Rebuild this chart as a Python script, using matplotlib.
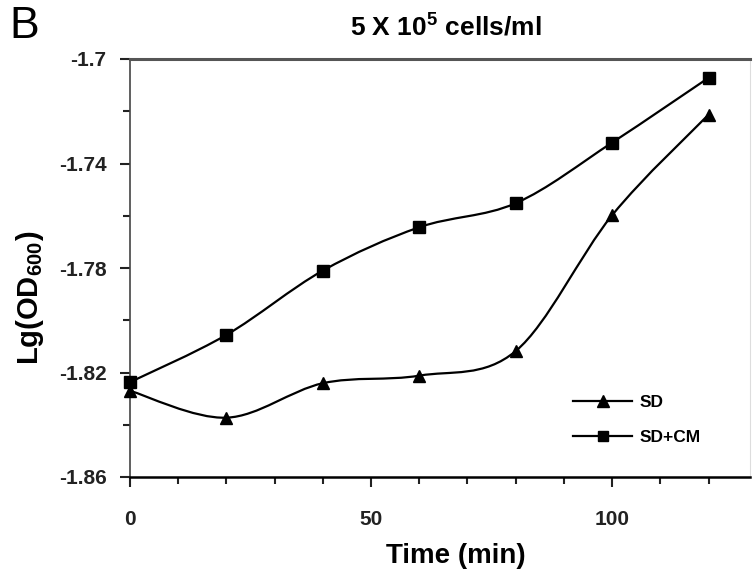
import matplotlib
matplotlib.use("Agg")
import matplotlib.pyplot as plt
from matplotlib.path import Path
from matplotlib.patches import PathPatch
from matplotlib.lines import Line2D
from matplotlib.ticker import MultipleLocator

plt.rcParams['font.family'] = ['Liberation Sans', 'DejaVu Sans']
plt.rcParams['mathtext.fontset'] = 'custom'
plt.rcParams['mathtext.rm'] = 'Liberation Sans:bold'
plt.rcParams['mathtext.bf'] = 'Liberation Sans:bold'
plt.rcParams['mathtext.it'] = 'Liberation Sans:bold'

# Datos
tiempo = [0, 20, 40, 60, 80, 100, 120]
sd = [-1.827, -1.8373, -1.8241, -1.8212, -1.8118, -1.7598, -1.7213]
sd_cm = [-1.8237, -1.8056, -1.781, -1.7644, -1.7552, -1.732, -1.7072]
nombres = ["SD", "SD+CM"]
y_ticks = [-1.86, -1.82, -1.78, -1.74, -1.70]
y_labels = ["-1.86", "-1.82", "-1.78", "-1.74", "-1.7"]
x_ticks = [0, 50, 100]


def curva_suave(xs, ys):
    # Curva tipo Excel (Catmull-Rom pasado a Bezier)
    pts = list(zip(xs, ys))
    verts = [pts[0]]
    codes = [Path.MOVETO]
    n = len(pts)
    for i in range(n - 1):
        p0 = pts[i - 1] if i > 0 else pts[i]
        p1 = pts[i]
        p2 = pts[i + 1]
        p3 = pts[i + 2] if i + 2 < n else pts[i + 1]
        c1 = (p1[0] + (p2[0] - p0[0]) / 6, p1[1] + (p2[1] - p0[1]) / 6)
        c2 = (p2[0] - (p3[0] - p1[0]) / 6, p2[1] - (p3[1] - p1[1]) / 6)
        verts += [c1, c2, p2]
        codes += [Path.CURVE4] * 3
    return Path(verts, codes)


W, H = 753, 576
fig = plt.figure(figsize=(W / 100, H / 100), dpi=100)
ax = fig.add_axes([130 / W, (H - 477) / H, 620 / W, (477 - 59) / H])

ax.set_xlim(0, 128.6)
ax.set_ylim(-1.86, -1.70)

for ys, marcador, ms in [(sd, "^", 9), (sd_cm, "s", 8.5)]:
    ax.add_patch(PathPatch(curva_suave(tiempo, ys), facecolor="none",
                           edgecolor="black", lw=1.6, clip_on=False))
    ax.plot(tiempo, ys, linestyle="none", marker=marcador, ms=ms,
            color="black", clip_on=False, zorder=3)

# Ejes
ax.spines["top"].set_linewidth(2.2)
ax.spines["top"].set_color("#555555")
ax.spines["right"].set_linewidth(0.8)
ax.spines["right"].set_color("#dddddd")
ax.spines["left"].set_linewidth(1.2)
ax.spines["left"].set_color("#444444")
ax.spines["bottom"].set_linewidth(1.8)

ax.set_xticks(x_ticks)
ax.set_xticklabels([str(t) for t in x_ticks])
ax.xaxis.set_minor_locator(MultipleLocator(10))
ax.set_yticks(y_ticks)
ax.set_yticklabels(y_labels)
ax.yaxis.set_minor_locator(MultipleLocator(0.02))
ax.tick_params(axis="both", which="both", direction="out", width=1.5,
               labelsize=15, colors="#222222")
ax.tick_params(axis="both", which="major", length=7)
ax.tick_params(axis="both", which="minor", length=5)
ax.tick_params(axis="x", pad=17)
ax.tick_params(axis="y", pad=10)
for lbl in ax.get_xticklabels() + ax.get_yticklabels():
    lbl.set_fontweight("bold")

# Leyenda
handles = [
    Line2D([], [], color="black", lw=1.6, marker="^", ms=8),
    Line2D([], [], color="black", lw=1.6, marker="s", ms=7.5),
]
ax.legend(handles, nombres, loc="center left",
          bbox_to_anchor=((573 - 130) / 620, (477 - 420) / 418),
          frameon=False, borderpad=0, borderaxespad=0,
          handlelength=3.4, handletextpad=0.45, labelspacing=1.15,
          prop={"weight": "bold", "size": 12.5})

# Textos
fig.text(446 / W, 1 - 27 / H, r"5 X 10$^{5}$ cells/ml", ha="center",
         va="center", fontsize=19, fontweight="bold")
fig.text(456 / W, 1 - 556 / H, "Time (min)", ha="center", va="center",
         fontsize=20, fontweight="bold")
fig.text(30 / W, 1 - 298 / H, r"Lg(OD$_{600}$)", ha="center", va="center",
         rotation=90, fontsize=21, fontweight="bold")
fig.text(9 / W, 1 - 27 / H, "B", ha="left", va="center", fontsize=32)

plt.savefig("out.png", dpi=100)
